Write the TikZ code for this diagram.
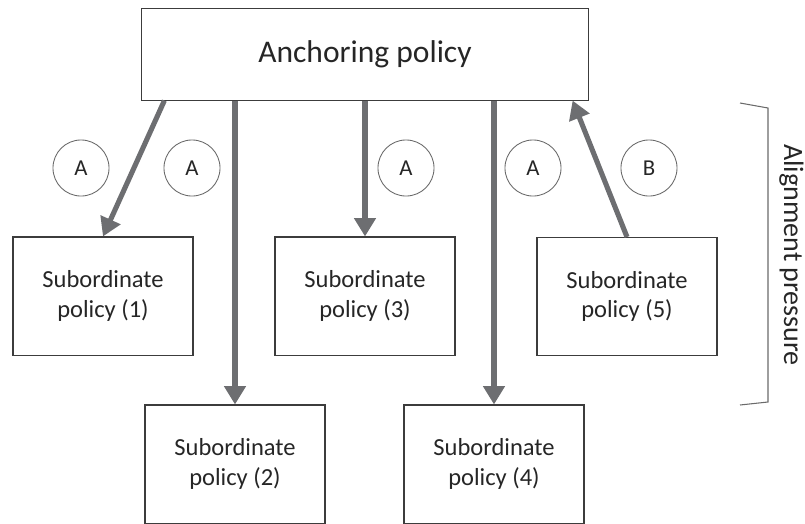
\documentclass[tikz,border=0pt]{standalone}
\usepackage{fontspec}
\setmainfont{Carlito}
\usetikzlibrary{arrows.meta}
\definecolor{arrowgray}{HTML}{6D6E71}
\definecolor{boxline}{HTML}{3C3C3C}
\definecolor{ringline}{HTML}{6A6A6A}
\definecolor{textcol}{HTML}{262626}
\tikzstyle{policy}=[draw=boxline,line width=0.6pt,fill=white,text=textcol,align=center,inner sep=0pt,minimum width=102.8pt,minimum height=67.4pt,font=\fontsize{14}{17}\selectfont]
\tikzstyle{anchorbox}=[policy,minimum width=254.7pt,minimum height=52pt,font=\fontsize{18}{22}\selectfont]
\tikzstyle{ring}=[circle,draw=ringline,line width=0.5pt,text=textcol,inner sep=0pt,minimum size=32pt,font=\fontsize{13}{15}\selectfont]
\tikzstyle{push}=[draw=arrowgray,line width=2.9pt,-{Triangle[length=10.5pt,width=12pt]}]

\begin{document}
\begin{tikzpicture}[x=0.571pt,y=-0.571pt]
    \useasboundingbox (0,0) rectangle (805,523);
    \node [anchorbox] (anc) at (365,54.5) {Anchoring policy};
    \node [policy] (p1) at (103,296) {Subordinate\\policy (1)};
    \node [policy] (p2) at (235,464) {Subordinate\\policy (2)};
    \node [policy] (p3) at (365,296) {Subordinate\\policy (3)};
    \node [policy] (p4) at (494,464) {Subordinate\\policy (4)};
    \node [policy] (p5) at (627,296.5) {Subordinate\\policy (5)};
    \node [ring] (r1) at (81,168) {A};
    \node [ring] (r2) at (192,168) {A};
    \node [ring] (r3) at (406,168) {A};
    \node [ring] (r4) at (533,168) {A};
    \node [ring] (r5) at (649,168) {B};
    \draw [push] ([xshift=13.1pt]anc.south west) -- (p1.north);
    \draw [push] (anc.south -| p2.north) -- (p2.north);
    \draw [push] (anc.south) -- (p3.north);
    \draw [push] (anc.south -| p4.north) -- (p4.north);
    \draw [push] (p5.north) -- ([xshift=-9.1pt]anc.south east);
    \coordinate (bt) at (740,103);
    \coordinate (bb) at (740,405);
    \draw [draw=ringline,line width=0.6pt] (bt) -- (768,108) -- (768,402) -- (bb);
    \node [text=textcol,rotate=-90,anchor=base,inner sep=0pt,font=\fontsize{16}{19}\selectfont] (press) at (784,255) {Alignment pressure};
\end{tikzpicture}
\end{document}
